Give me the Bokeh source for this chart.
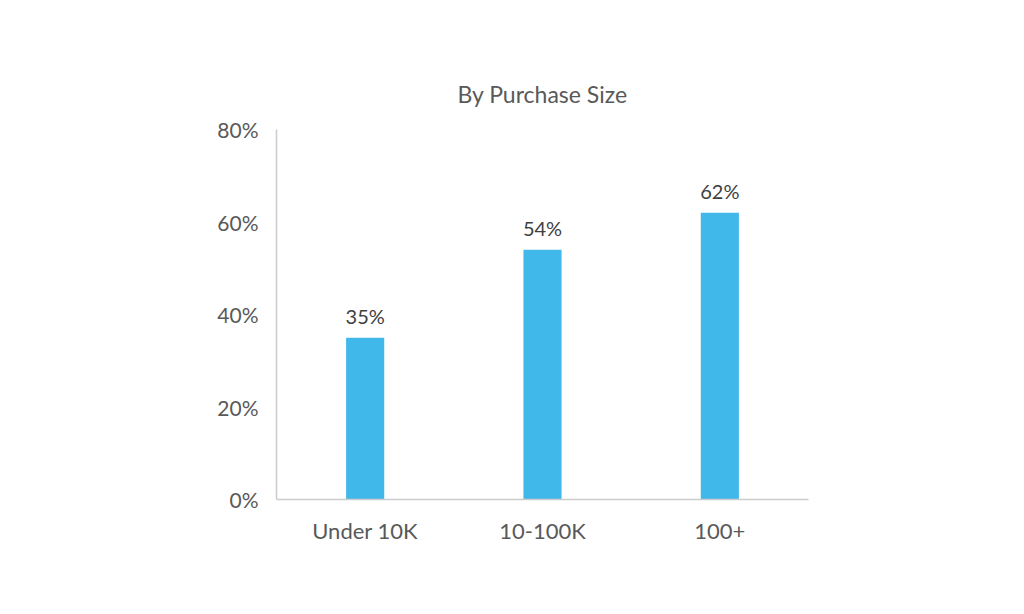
from bokeh.plotting import figure
from bokeh.models import ColumnDataSource, FactorRange, Range1d, NumeralTickFormatter, FixedTicker
from bokeh.core.properties import value
from bokeh.embed import file_html
from bokeh.resources import INLINE

categories = ["Under 10K", "10-100K", "100+"]
values = [0.35, 0.54, 0.62]
labels = ["35%", "54%", "62%"]
y_ticks = [0, 0.2, 0.4, 0.6, 0.8]

FONT = "Lato"

src = ColumnDataSource(data=dict(cat=categories, val=values, lab=labels))

p = figure(x_range=FactorRange(*categories, range_padding=0), y_range=Range1d(0, 0.8),
           width=1000, height=590, output_backend="svg", toolbar_location=None,
           min_border_left=276, min_border_right=192, min_border_top=129, min_border_bottom=91)
p.x_range.factor_padding = 0

p.vbar(x="cat", top="val", width=0.215, source=src, color="#41B8EA", line_color=None)
p.text(x="cat", y="val", text="lab", source=src, text_align="center", text_baseline="bottom",
       y_offset=-10, text_font=value(FONT), text_font_size="20px", text_color="#404040")

p.title.text = "By Purchase Size"
p.title.align = "center"
p.title.text_font = FONT
p.title.text_font_size = "23px"
p.title.text_font_style = "normal"
p.title.text_color = "#595959"
p.title.standoff = 44

p.yaxis.ticker = FixedTicker(ticks=y_ticks)
p.yaxis.formatter = NumeralTickFormatter(format="0%")
for ax in (p.xaxis, p.yaxis):
    ax.axis_line_color = "#CCCCCC"
    ax.axis_line_width = 1.5
    ax.major_tick_line_color = None
    ax.minor_tick_line_color = None
    ax.major_label_text_font = FONT
    ax.major_label_text_color = "#595959"
p.yaxis.major_label_text_font_size = "21px"
p.xaxis.major_label_text_font_size = "22px"
p.yaxis.major_label_standoff = 12
p.xaxis.major_label_standoff = 11

p.xgrid.grid_line_color = None
p.ygrid.grid_line_color = None
p.outline_line_color = None

open("out.html", "w").write(file_html(p, INLINE))
